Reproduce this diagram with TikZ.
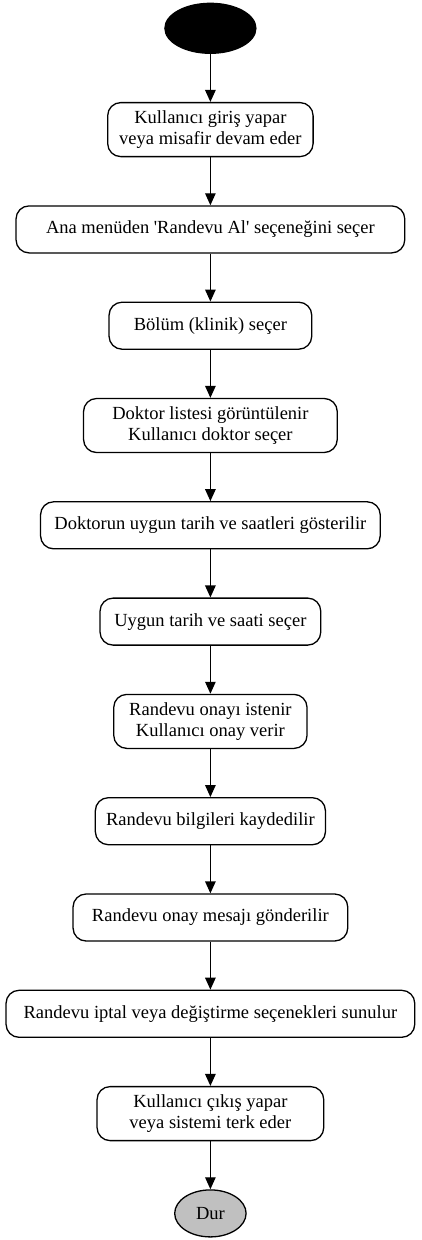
\documentclass[tikz,border=0pt]{standalone}
\usepackage{fontspec}
\setmainfont{Liberation Serif}
\usetikzlibrary{positioning, shapes.geometric, arrows.meta}
\definecolor{durgray}{RGB}{192,192,192}

\begin{document}
\begin{tikzpicture}[every node/.style={draw, line width=1.3pt, rectangle, rounded corners=13pt, minimum height=47pt, align=center, inner sep=0pt, font=\fontsize{18.5}{21.5}\selectfont}]
                \useasboundingbox (-210.4pt, 28.3pt) rectangle (210.6pt, -1211.7pt);
                \node[ellipse, fill=black, minimum width=91pt, minimum height=50pt] (Start) at (0, 0) {};
                \node[below =48pt of Start, minimum width=205.4pt, minimum height=54pt] (Login) {Kullanıcı giriş yapar\\veya misafir devam eder};
                \node[below =48pt of Login, minimum width=388.7pt] (Menu) {Ana menüden \textquotesingle Randevu Al\textquotesingle{} seçeneğini seçer};
                \node[below =48pt of Menu, minimum width=202.7pt] (Dept) {Bölüm (klinik) seçer};
                \node[below =48pt of Dept, minimum width=253.7pt, minimum height=54pt] (Doc) {Doktor listesi görüntülenir\\Kullanıcı doktor seçer};
                \node[below =48pt of Doc, minimum width=339.7pt] (Slots) {Doktorun uygun tarih ve saatleri gösterilir};
                \node[below =48pt of Slots, minimum width=220.7pt] (Pick) {Uygun tarih ve saati seçer};
                \node[below =48pt of Pick, minimum width=193.3pt, minimum height=54pt] (Confirm) {Randevu onayı istenir\\Kullanıcı onay verir};
                \node[below =48pt of Confirm, minimum width=230.1pt] (Save) {Randevu bilgileri kaydedilir};
                \node[below =48pt of Save, minimum width=274.7pt] (Msg) {Randevu onay mesajı gönderilir};
                \node[below =48pt of Msg, minimum width=408.7pt] (Edit) {Randevu iptal veya değiştirme seçenekleri sunulur};
                \node[below =48pt of Edit, minimum width=226.7pt, minimum height=54pt] (Exit) {Kullanıcı çıkış yapar\\veya sistemi terk eder};
                \node[below =48pt of Exit, ellipse, fill=durgray, minimum width=71.4pt, minimum height=47pt] (Stop) {Dur};
                \foreach \u / \v in {Start/Login, Login/Menu, Menu/Dept, Dept/Doc, Doc/Slots, Slots/Pick, Pick/Confirm, Confirm/Save, Save/Msg, Msg/Edit, Edit/Exit, Exit/Stop}
                    \draw[-{Triangle[length=12pt, width=10.5pt]}, line width=1.3pt] (\u) -- (\v);
            \end{tikzpicture}
\end{document}
